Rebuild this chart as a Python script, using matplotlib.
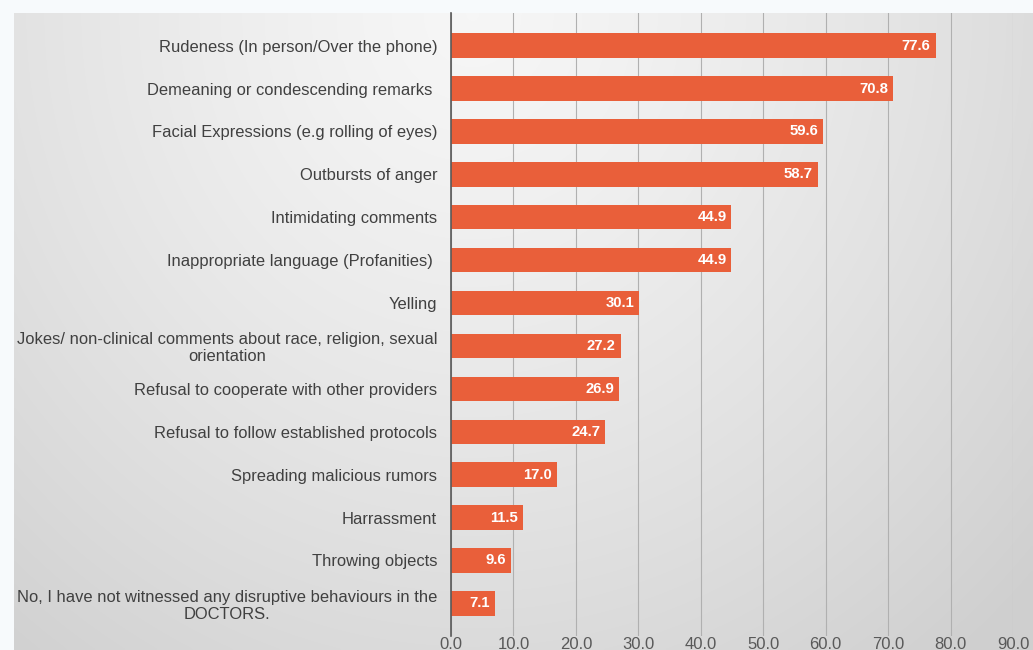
import numpy as np
import matplotlib
matplotlib.use("Agg")
import matplotlib.pyplot as plt

categories = [
    "Rudeness (In person/Over the phone)",
    "Demeaning or condescending remarks ",
    "Facial Expressions (e.g rolling of eyes)",
    "Outbursts of anger",
    "Intimidating comments",
    "Inappropriate language (Profanities) ",
    "Yelling",
    "Jokes/ non-clinical comments about race, religion, sexual\norientation",
    "Refusal to cooperate with other providers",
    "Refusal to follow established protocols",
    "Spreading malicious rumors",
    "Harrassment",
    "Throwing objects",
    "No, I have not witnessed any disruptive behaviours in the\nDOCTORS.",
]
values = [77.6, 70.8, 59.6, 58.7, 44.9, 44.9, 30.1, 27.2, 26.9, 24.7, 17.0, 11.5, 9.6, 7.1]
xticks = [0, 10, 20, 30, 40, 50, 60, 70, 80, 90]

plt.rcParams['font.family'] = ['Liberation Sans', 'DejaVu Sans']

W, H = 1033, 650
fig = plt.figure(figsize=(W / 100, H / 100), dpi=100)
fig.patch.set_facecolor('#F7FAFC')

# background panel with radial gradient
px0, py0 = 14, 13
bg = fig.add_axes([px0 / W, 0, 1 - px0 / W, 1 - py0 / H])
bg.set_axis_off()
nx, ny = 400, 250
xx, yy = np.meshgrid(np.linspace(0, 1, nx), np.linspace(0, 1, ny))
d = np.sqrt(((xx - 0.45) / 0.75) ** 2 + ((yy - 0.0) / 1.3) ** 2)
d = np.clip(d, 0, 1)
c = 0.965 - 0.15 * d ** 1.3
img = np.dstack([c, c, c])
bg.imshow(img, aspect='auto', extent=[0, 1, 1, 0], interpolation='bilinear')
bg.set_xlim(0, 1)
bg.set_ylim(1, 0)

# main axes
x0, x1 = 451, 1013
y_top, y_bot = 13, 636
ax = fig.add_axes([x0 / W, 1 - y_bot / H, (x1 - x0) / W, (y_bot - y_top) / H])
ax.patch.set_alpha(0)

n = len(categories)
pos = np.arange(n)
ax.barh(pos, values, height=0.57, color='#E95F3A', zorder=3)
ax.set_ylim(n - 1 + 0.76, -0.76)
ax.set_xlim(0, 90)
ax.set_xticks(xticks)
ax.set_xticklabels([f"{v:.1f}" for v in xticks], fontsize=12, color='#595959')
ax.set_yticks(pos)
ax.set_yticklabels(categories, fontsize=11.9, color='#404040')
for t in ax.get_yticklabels():
    t.set_multialignment('center')
    t.set_linespacing(1.15)
ax.tick_params(axis='y', length=0, pad=10)
ax.tick_params(axis='x', length=0, pad=0.5)
ax.grid(axis='x', color='#B0B0B0', linewidth=0.8, zorder=0)
for s in ['top', 'right', 'bottom']:
    ax.spines[s].set_visible(False)
ax.spines['left'].set_color('#595959')
ax.spines['left'].set_linewidth(1.2)
ax.spines['left'].set_zorder(4)

for p, v in zip(pos, values):
    ax.text(v - 0.8, p, f"{v:.1f}", ha='right', va='center', color='white',
            fontsize=10.7, fontweight='bold', zorder=5)

fig.savefig('out.png', dpi=100, facecolor=fig.get_facecolor())
